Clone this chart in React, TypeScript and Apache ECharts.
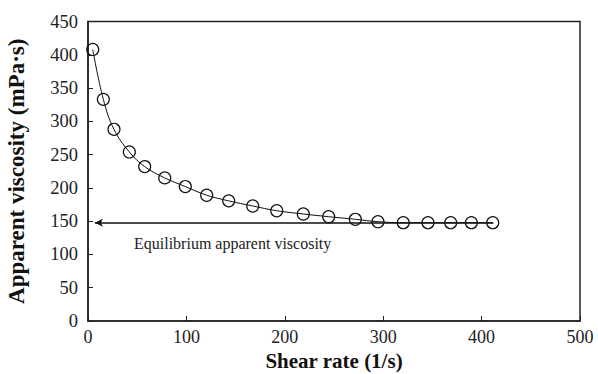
import React, { useEffect, useRef } from "react";
import * as echarts from "echarts";

const shearRate = [4.8, 15.6, 26.4, 42, 57.6, 78, 98.9, 120.6, 143, 167.4, 191.8, 218.8, 244.6, 271.7, 294.7, 320.4, 345.5, 368.6, 389.6, 411.3];
const viscosity = [408, 333, 288, 254, 232, 215, 202, 189, 180.5, 172.8, 165.7, 160.8, 156.7, 152.8, 149.2, 147.7, 147.7, 147.7, 147.7, 147.7];
const equilibrium = 147.7;
const arrowFrom = 412;
const arrowTo = 7;
const xTicks = { min: 0, max: 500, interval: 100 };
const yTicks = { min: 0, max: 450, interval: 50 };

const FONT = "Liberation Serif";

export default function App() {
  const ref = useRef<HTMLDivElement>(null);
  useEffect(() => {
    if (!ref.current) return;
    const chart = echarts.init(ref.current, undefined, { renderer: "svg", width: 598, height: 374 });
    chart.setOption({
      animation: false,
      backgroundColor: "#fff",
      grid: {
        left: 88, width: 492, top: 21.5, height: 299.5,
        outerBoundsMode: "none", containLabel: false,
        show: true, borderColor: "#222", borderWidth: 1.5, backgroundColor: "transparent",
      },
      xAxis: {
        type: "value",
        min: xTicks.min,
        max: xTicks.max,
        interval: xTicks.interval,
        name: "Shear rate (1/s)",
        nameLocation: "middle",
        nameGap: 29,
        nameTextStyle: { fontFamily: FONT, fontWeight: "bold", fontSize: 21, color: "#111" },
        axisLine: { show: true, lineStyle: { color: "#222", width: 1.5 } },
        axisTick: { show: true, inside: true, length: 5, lineStyle: { color: "#222" } },
        axisLabel: { fontFamily: FONT, fontSize: 18, color: "#222", margin: 7 },
        splitLine: { show: false },
      },
      yAxis: {
        type: "value",
        min: yTicks.min,
        max: yTicks.max,
        interval: yTicks.interval,
        name: "Apparent viscosity (mPa·s)",
        nameLocation: "middle",
        nameGap: 60,
        nameTextStyle: { fontFamily: FONT, fontWeight: "bold", fontSize: 23, color: "#111" },
        axisLine: { show: true, lineStyle: { color: "#222", width: 1.5 } },
        axisTick: { show: true, inside: true, length: 5, lineStyle: { color: "#222" } },
        axisLabel: { fontFamily: FONT, fontSize: 18.5, color: "#222", margin: 10 },
        splitLine: { show: false },
      },
      series: [
        {
          type: "line",
          data: shearRate.map((x, i) => [x, viscosity[i]]),
          smooth: 0.4,
          symbol: "circle",
          symbolSize: 12,
          showSymbol: true,
          lineStyle: { color: "#111", width: 1 },
          itemStyle: { color: "transparent", borderColor: "#111", borderWidth: 1.2 },
          z: 3,
          markLine: {
            silent: true,
            symbol: ["none", "arrow"],
            symbolSize: [6, 8],
            label: { show: false },
            lineStyle: { color: "#111", width: 1.5, type: "solid" },
            data: [[{ coord: [arrowFrom, equilibrium] }, { coord: [arrowTo, equilibrium] }]],
          },
        },
      ],
      graphic: [
        {
          type: "text",
          left: 134,
          top: 235,
          style: { text: "Equilibrium apparent viscosity", fontFamily: FONT, fontSize: 16, fill: "#222" },
        },
      ],
    });
    return () => chart.dispose();
  }, []);
  return <div ref={ref} style={{ position: "fixed", left: 0, top: 0, width: 598, height: 374 }} />;
}
